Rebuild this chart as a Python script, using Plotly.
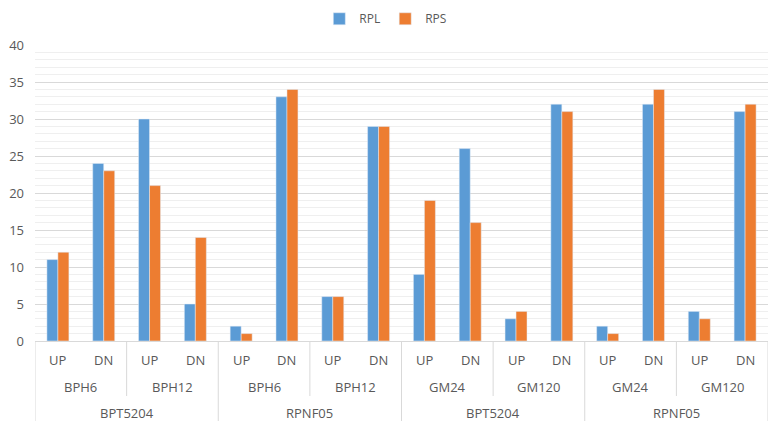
import plotly.graph_objects as go

level1 = ["UP", "DN"] * 8
level2 = ["BPH6", "BPH12", "BPH6", "BPH12", "GM24", "GM120", "GM24", "GM120"]
level3 = ["BPT5204", "RPNF05", "BPT5204", "RPNF05"]
rpl = [11, 24, 30, 5, 2, 33, 6, 29, 9, 26, 3, 32, 2, 32, 4, 31]
rps = [12, 23, 21, 14, 1, 34, 6, 29, 19, 16, 4, 31, 1, 34, 3, 32]

xpos = list(range(len(rpl)))
FONT = "Open Sans, Liberation Sans, sans-serif"
TXT = "#595959"
SEP = "#d9d9d9"

fig = go.Figure()
fig.add_trace(go.Bar(x=xpos, y=rpl, name="RPL", marker_color="#5B9BD5"))
fig.add_trace(go.Bar(x=xpos, y=rps, name="RPS", marker_color="#ED7D31"))

ann = []
shapes = []
for i, t in enumerate(level1):
    ann.append(dict(x=i, y=0, xref="x", yref="paper", text=t, showarrow=False,
                    yanchor="middle", yshift=-19, font=dict(size=13, color=TXT, family=FONT)))
for j, t in enumerate(level2):
    ann.append(dict(x=2 * j + 0.5, y=0, xref="x", yref="paper", text=t, showarrow=False,
                    yanchor="middle", yshift=-46, font=dict(size=13, color=TXT, family=FONT)))
for k, t in enumerate(level3):
    ann.append(dict(x=4 * k + 1.5, y=0, xref="x", yref="paper", text=t, showarrow=False,
                    yanchor="middle", yshift=-72, font=dict(size=13, color=TXT, family=FONT)))

for j in range(len(level2)):
    if j % 2 == 1:
        xb = 2 * j - 0.5
        shapes.append(dict(type="line", xref="x", yref="paper", ysizemode="pixel", yanchor=0,
                           x0=xb, x1=xb, y0=0, y1=-55, line=dict(color=SEP, width=1)))
for k in range(len(level3) + 1):
    xb = 4 * k - 0.5
    shapes.append(dict(type="line", xref="x", yref="paper", ysizemode="pixel", yanchor=0,
                       x0=xb, x1=xb, y0=0, y1=-80, line=dict(color=SEP, width=1)))

fig.update_layout(
    width=781, height=428,
    margin=dict(l=35, r=13, t=45, b=87, autoexpand=False),
    paper_bgcolor="white", plot_bgcolor="white",
    barmode="group", bargap=0.52, bargroupgap=0,
    font=dict(family=FONT, color=TXT, size=13),
    legend=dict(orientation="h", x=0.494, xref="container", xanchor="center",
                y=0.99, yref="container", yanchor="top", font=dict(size=12, color=TXT),
                itemwidth=30, traceorder="normal"),
    annotations=ann, shapes=shapes,
)
fig.update_xaxes(range=[-0.5, 15.5], showticklabels=False, showgrid=False, automargin=False,
                 showline=True, linecolor=SEP, linewidth=1, zeroline=False, fixedrange=True)
fig.update_yaxes(range=[0, 40], dtick=5, showgrid=True, gridcolor=SEP, gridwidth=1, automargin=False,
                 zeroline=False, ticks="", tickfont=dict(size=13, color=TXT), ticklabelstandoff=10,
                 minor=dict(dtick=1, showgrid=True, gridcolor="#efefef", gridwidth=1))

fig.write_html("out.html", config={"displayModeBar": False},
               post_script="document.body.style.margin='0';")
